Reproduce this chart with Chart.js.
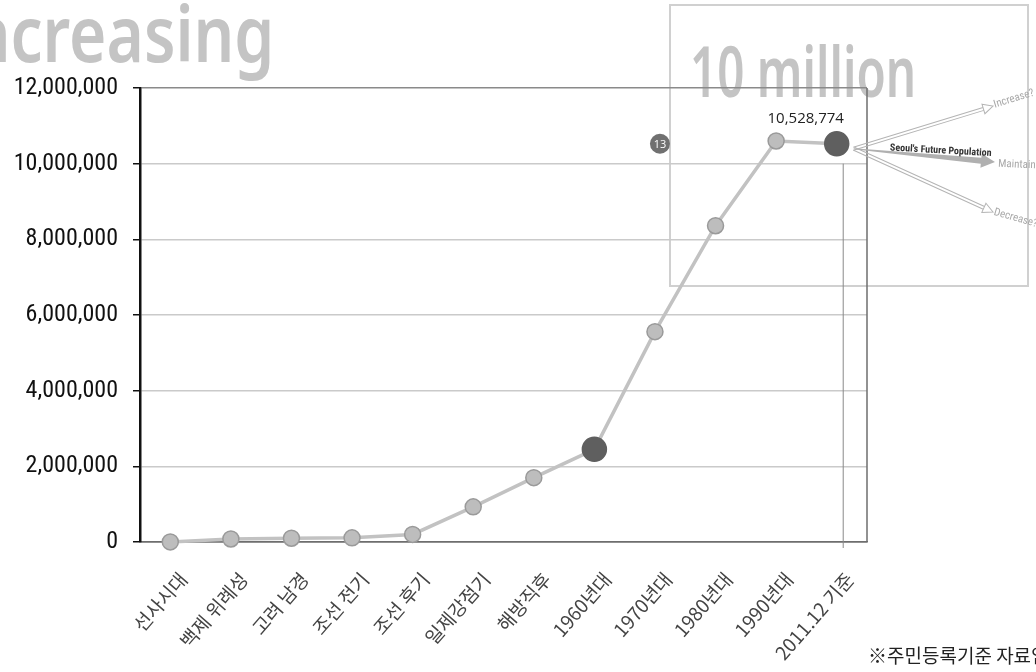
<!DOCTYPE html>
<html>
<head>
<meta charset="utf-8">
<script src="https://cdn.jsdelivr.net/npm/chart.js@4.4.1/dist/chart.umd.min.js"></script>
<style>
    html, body { margin: 0; padding: 0; background: #fff; overflow: hidden; }
    #wrap { position: relative; width: 1036px; height: 672px; }
    #chart { position: absolute; left: 0; top: 0; }
    .big { position: absolute; color: #c4c4c4; font-family: 'Noto Sans', 'Open Sans', sans-serif; font-weight: 600; line-height: 1; white-space: nowrap; transform-origin: left top; }
    #title { left: -54px; top: -7px; font-size: 78px; transform: scaleX(0.82); }
    #box { position: absolute; left: 669px; top: 4px; width: 356px; height: 279px; border: 2px solid #d0d0d0; }
    #million { left: 690px; top: 35px; font-size: 70px; transform: scaleX(0.68); }
    #note { position: absolute; left: 868px; top: 641px; font-size: 19px; color: #222; white-space: nowrap; font-family: 'Noto Sans CJK KR', sans-serif; }
</style>
</head>
<body>
<div id="wrap">
    <div id="title" class="big">Increasing</div>
    <div id="box"></div>
    <div id="million" class="big">10 million</div>
    <canvas id="chart" width="1036" height="672"></canvas>
    <div id="note">※주민등록기준 자료임</div>
</div>
<script>
// Data
const categories = ['선사시대', '백제 위례성', '고려 남경', '조선 전기', '조선 후기', '일제강점기',
    '해방직후', '1960년대', '1970년대', '1980년대', '1990년대', '2011.12 기준'];
const population = [3000, 80000, 100000, 110000, 200000, 930000,
    1700000, 2450000, 5560000, 8360000, 10600000, 10528774];
const highlighted = [7, 11];
const yTicks = [0, 2000000, 4000000, 6000000, 8000000, 10000000, 12000000];
const futureLabels = ['Increase?', 'Maintain?', 'Decrease?'];
const futureTitle = "Seoul's Future Population";
const badgeText = '13';

const narrow = "'Liberation Sans Narrow', 'Roboto Condensed', 'Liberation Sans', sans-serif";

function formatNumber(v) {
    return v.toLocaleString('en-US');
}

function hollowArrow(ctx, x0, y0, x1, y1) {
    const a = Math.atan2(y1 - y0, x1 - x0);
    const len = Math.hypot(x1 - x0, y1 - y0);
    ctx.save();
    ctx.translate(x0, y0);
    ctx.rotate(a);
    ctx.strokeStyle = '#b4b4b4';
    ctx.lineWidth = 1;
    ctx.beginPath();
    ctx.moveTo(0, -1.5); ctx.lineTo(len - 10, -1.5);
    ctx.moveTo(0, 1.5); ctx.lineTo(len - 10, 1.5);
    ctx.stroke();
    ctx.beginPath();
    ctx.moveTo(len - 10, -5); ctx.lineTo(len, 0); ctx.lineTo(len - 10, 5); ctx.closePath();
    ctx.fillStyle = '#fff';
    ctx.fill();
    ctx.stroke();
    ctx.restore();
}

function solidArrow(ctx, x0, y0, x1, y1) {
    const a = Math.atan2(y1 - y0, x1 - x0);
    const len = Math.hypot(x1 - x0, y1 - y0);
    ctx.save();
    ctx.translate(x0, y0);
    ctx.rotate(a);
    ctx.fillStyle = '#b0b0b0';
    ctx.beginPath();
    ctx.moveTo(0, -0.5);
    ctx.lineTo(len - 14, -3);
    ctx.lineTo(len - 14, -7);
    ctx.lineTo(len, 0);
    ctx.lineTo(len - 14, 7);
    ctx.lineTo(len - 14, 3);
    ctx.lineTo(0, 0.5);
    ctx.closePath();
    ctx.fill();
    ctx.restore();
}

function rotatedText(ctx, text, x, y, angle, font, color) {
    ctx.save();
    ctx.translate(x, y);
    ctx.rotate(angle);
    ctx.font = font;
    ctx.fillStyle = color;
    ctx.textAlign = 'left';
    ctx.textBaseline = 'middle';
    ctx.fillText(text, 0, 0);
    ctx.restore();
}

// Extra drawings: right border, drop line, value label, badge, future arrows
const annotations = {
    id: 'annotations',
    afterDatasetsDraw(chart) {
        const ctx = chart.ctx;
        const area = chart.chartArea;
        const xs = chart.scales.x;
        const ys = chart.scales.y;
        const last = population.length - 1;
        const lx = xs.getPixelForValue(last);
        const ly = ys.getPixelForValue(population[last]);

        ctx.save();
        // right border of plot
        ctx.strokeStyle = '#6e6e6e';
        ctx.lineWidth = 1.5;
        ctx.beginPath();
        ctx.moveTo(area.right, area.top);
        ctx.lineTo(area.right, area.bottom);
        ctx.stroke();

        // drop line under last point
        ctx.strokeStyle = '#8a8a8a';
        ctx.lineWidth = 1;
        ctx.beginPath();
        ctx.moveTo(lx + 6.5, ys.getPixelForValue(10000000));
        ctx.lineTo(lx + 6.5, area.bottom + 6);
        ctx.stroke();

        // value label
        ctx.font = "15px 'Open Sans', 'Noto Sans', sans-serif";
        ctx.fillStyle = '#222';
        ctx.textAlign = 'center';
        ctx.textBaseline = 'alphabetic';
        ctx.fillText(formatNumber(population[last]), lx - 31, ly - 21);

        // badge
        const bx = xs.getPixelForValue(8) + 5;
        const by = ys.getPixelForValue(10500000) - 1;
        ctx.fillStyle = '#707070';
        ctx.beginPath();
        ctx.arc(bx, by, 10, 0, Math.PI * 2);
        ctx.fill();
        ctx.fillStyle = '#fff';
        ctx.font = "11px 'Open Sans', sans-serif";
        ctx.textBaseline = 'middle';
        ctx.fillText(badgeText, bx, by + 1);

        // future arrows
        const sx = lx + 17, sy = ly + 5;
        hollowArrow(ctx, sx, sy, 993, 106);
        solidArrow(ctx, sx, sy, 995, 162);
        hollowArrow(ctx, sx, sy, 993, 212);
        rotatedText(ctx, futureTitle, 890, 148, 0.055, "bold 10px " + narrow, '#333');
        const small = "11px " + narrow;
        rotatedText(ctx, futureLabels[0], 994, 105, -0.3, small, '#a8a8a8');
        rotatedText(ctx, futureLabels[1], 998, 164, 0.04, small, '#a8a8a8');
        rotatedText(ctx, futureLabels[2], 994, 212, 0.28, small, '#a8a8a8');
        ctx.restore();
    }
};

const ctx = document.getElementById('chart').getContext('2d');
const chart = new Chart(ctx, {
    type: 'line',
    data: {
        labels: categories,
        datasets: [{
            data: population,
            borderColor: '#c2c2c2',
            borderWidth: 3.5,
            tension: 0,
            clip: false,
            pointRadius: c => highlighted.includes(c.dataIndex) ? 12 : 8,
            pointBackgroundColor: c => highlighted.includes(c.dataIndex) ? '#5f5f5f' : '#bdbdbd',
            pointBorderColor: c => highlighted.includes(c.dataIndex) ? '#5f5f5f' : '#9a9a9a',
            pointBorderWidth: 1.5
        }]
    },
    options: {
        responsive: false,
        animation: false,
        layout: { padding: { top: 88, right: 169, left: 0, bottom: 0 } },
        plugins: {
            legend: { display: false },
            tooltip: { enabled: false }
        },
        scales: {
            x: {
                offset: true,
                grid: { display: false },
                border: { display: true, color: '#6e6e6e', width: 1.5 },
                ticks: {
                    color: '#444',
                    font: { family: "'Noto Sans CJK KR', sans-serif", size: 19 },
                    minRotation: 49,
                    maxRotation: 49,
                    padding: 18,
                    labelOffset: 13
                },
                afterFit: scale => { scale.height = 130; }
            },
            y: {
                min: 0,
                max: 12000000,
                afterBuildTicks: scale => { scale.ticks = yTicks.map(v => ({ value: v })); },
                afterFit: scale => { scale.width = 140; },
                grid: {
                    color: c => c.tick.value === 0 ? '#6e6e6e' : (c.tick.value === 12000000 ? '#8a8a8a' : '#cacaca'),
                    lineWidth: 1.5,
                    tickColor: '#111',
                    tickLength: 7
                },
                border: { display: true, color: '#111', width: 2.5 },
                ticks: {
                    color: '#111',
                    padding: 15,
                    font: { family: narrow, size: 24 },
                    callback: v => formatNumber(v)
                }
            }
        }
    },
    plugins: [annotations]
});
</script>
</body>
</html>
